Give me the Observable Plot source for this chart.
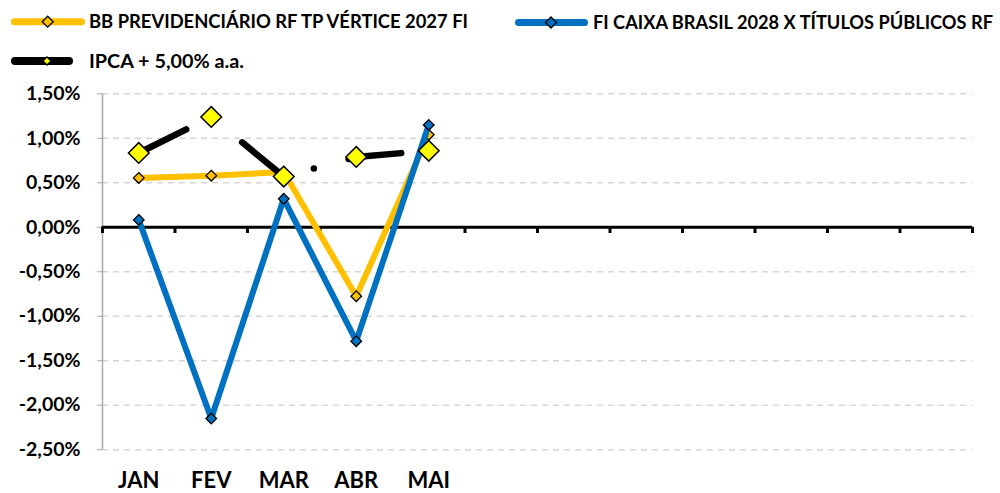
<!DOCTYPE html>
<html><head><meta charset="utf-8">
<script src="https://cdn.jsdelivr.net/npm/d3@7"></script>
<script src="https://cdn.jsdelivr.net/npm/@observablehq/plot@0.6"></script>
<style>
body{margin:0;background:#fff;font-family:Lato,"Liberation Sans",sans-serif;}
#wrap{position:relative;width:1000px;height:493px;overflow:hidden;}
#legend{position:absolute;left:0;top:0;}
#chart{position:absolute;left:0;top:80px;}
</style></head><body>
<div id="wrap"><svg id="legend" width="1000" height="80"></svg><div id="chart"></div></div>
<script>
const months = ["JAN","FEV","MAR","ABR","MAI","JUN","JUL","AGO","SET","OUT","NOV","DEZ"];
const labeledMonths = ["JAN","FEV","MAR","ABR","MAI"];
const seriesNames = ["BB PREVIDENCIÁRIO RF TP VÉRTICE 2027 FI","FI CAIXA BRASIL 2028 X TÍTULOS PÚBLICOS RF","IPCA + 5,00% a.a."];
const bbValues = [0.555, 0.58, 0.62, -0.775, 1.04];
const caixaValues = [0.083, -2.15, 0.32, -1.28, 1.15];
const ipcaValues = [0.835, 1.24, 0.57, 0.79, 0.86];
const yTicks = [-2.5, -2, -1.5, -1, -0.5, 0, 0.5, 1, 1.5];

const toRows = vals => vals.map((v, i) => ({month: labeledMonths[i], x: months.indexOf(labeledMonths[i]) + 0.5, y: v}));
const bb = toRows(bbValues), caixa = toRows(caixaValues), ipca = toRows(ipcaValues);
const boundaries = d3.range(months.length + 1);
const fmt = d => d.toFixed(2).replace(".", ",") + "%";

const chart = Plot.plot({
  width: 1000, height: 413,
  marginLeft: 102, marginRight: 28, marginTop: 13.3, marginBottom: 43.8,
  x: {type: "linear", domain: [0, months.length], axis: null, label: null},
  y: {domain: [-2.5, 1.5], axis: null, label: null},
  style: {fontFamily: "Lato, 'Liberation Sans', sans-serif", background: "white", overflow: "visible"},
  marks: [
    Plot.ruleY(yTicks.filter(d => d !== 0), {stroke: "#d6d6d6", strokeWidth: 1.5, strokeDasharray: "6,5"}),
    Plot.ruleX([0], {y1: -2.5, y2: 1.5, stroke: "#a6a6a6", strokeWidth: 1.5}),
    Plot.axisY({ticks: yTicks, tickFormat: fmt, tickSize: 5, tickPadding: 17, stroke: "#a6a6a6", fill: "black", fontSize: 19.5, fontWeight: "bold", label: null}),
    Plot.axisX(labeledMonths.map(m => months.indexOf(m) + 0.5), {tickFormat: d => months[Math.floor(d)], tickSize: 0, tickPadding: 23, fill: "black", fontSize: 22, fontWeight: "bold", label: null}),
    Plot.ruleY([0], {stroke: "black", strokeWidth: 3}),
    Plot.ruleX(boundaries, {y1: 0, y2: -0.07, stroke: "black", strokeWidth: 3}),
    Plot.line(bb, {x: "x", y: "y", stroke: "#FFC000", strokeWidth: 6, strokeLinejoin: "round"}),
    Plot.dot(bb, {x: "x", y: "y", symbol: "diamond2", r: 4.8, fill: "#FFC000", stroke: "black", strokeWidth: 1.3}),
    Plot.line(caixa, {x: "x", y: "y", stroke: "#0070C0", strokeWidth: 6, strokeLinejoin: "round"}),
    Plot.dot(caixa, {x: "x", y: "y", symbol: "diamond2", r: 4.8, fill: "#0070C0", stroke: "black", strokeWidth: 1.3}),
    Plot.line(ipca, {x: "x", y: "y", stroke: "black", strokeWidth: 6.5, strokeLinecap: "round", strokeDasharray: "53 32 0 36"}),
    Plot.dot(ipca, {x: "x", y: "y", symbol: "diamond2", r: 9.3, fill: "#FFFF00", stroke: "black", strokeWidth: 1.5})
  ]
});
document.getElementById("chart").appendChild(chart);

// legend
const leg = d3.select("#legend");
const items = [
  {name: seriesNames[0], color: "#FFC000", mk: "#FFC000", x0: 11, x1: 85, cx: 47.7, cy: 21.7, h: 5.5, w: 7, tx: 89, len: 379},
  {name: seriesNames[1], color: "#0070C0", mk: "#0070C0", x0: 515, x1: 588, cx: 551, cy: 22.5, h: 5.5, w: 7, tx: 593, len: 400},
  {name: seriesNames[2], color: "black", mk: "#FFFF00", x0: 11, x1: 73, cx: 47, cy: 61, h: 4, w: 8, tx: 89, len: 155}
];
for (const it of items) {
  leg.append("line").attr("x1", it.x0 + it.w/2).attr("x2", it.x1 - it.w/2).attr("y1", it.cy).attr("y2", it.cy)
    .attr("stroke", it.color).attr("stroke-width", it.w).attr("stroke-linecap", "round");
  leg.append("path").attr("d", `M${it.cx},${it.cy-it.h}L${it.cx+it.h},${it.cy}L${it.cx},${it.cy+it.h}L${it.cx-it.h},${it.cy}Z`)
    .attr("fill", it.mk).attr("stroke", "black").attr("stroke-width", 1.3);
  leg.append("text").attr("x", it.tx).attr("y", it.cy).attr("dy", "0.36em").attr("font-size", 18.5).attr("font-weight", "bold")
    .attr("font-family", "Lato, 'Liberation Sans', sans-serif").attr("fill", "black")
    .attr("textLength", it.len).attr("lengthAdjust", "spacingAndGlyphs").text(it.name);
}
</script>
</body></html>
